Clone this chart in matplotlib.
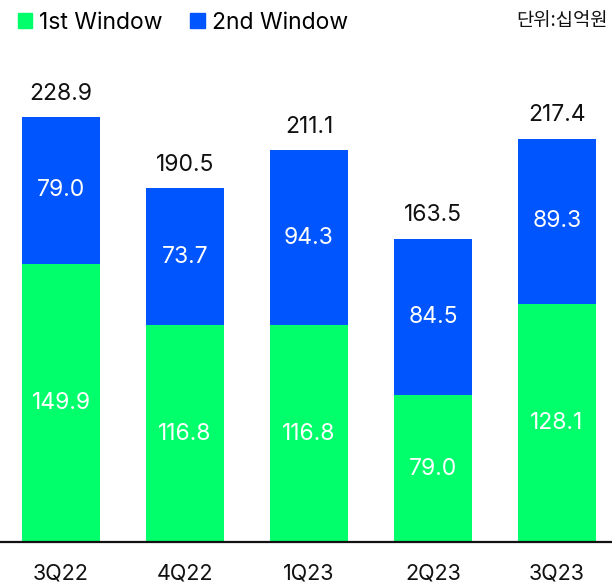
import matplotlib.pyplot as plt
from matplotlib.patches import Patch

plt.rcParams['font.family'] = ['Inter', 'Noto Sans CJK KR', 'DejaVu Sans']

quarters = ["3Q22", "4Q22", "1Q23", "2Q23", "3Q23"]
first_window = [149.9, 116.8, 116.8, 79.0, 128.1]
second_window = [79.0, 73.7, 94.3, 84.5, 89.3]
totals = [228.9, 190.5, 211.1, 163.5, 217.4]

green = "#00FF6A"
blue = "#0055FF"

fig = plt.figure(figsize=(6.12, 5.87), dpi=100)
ax = fig.add_axes([0, 45 / 587, 1, 464 / 587])

x = list(range(len(quarters)))
w = 0.629
ax.bar(x, first_window, width=w, color=green)
ax.bar(x, second_window, width=w, bottom=first_window, color=blue)

# 막대 안/위 값 표시
for i in x:
    ax.text(i, first_window[i] / 2, "{:.1f}".format(first_window[i]),
            ha="center", va="center", color="white", fontsize=16.5)
    ax.text(i, first_window[i] + second_window[i] / 2, "{:.1f}".format(second_window[i]),
            ha="center", va="center", color="white", fontsize=16.5)
    ax.text(i, totals[i] + 6.5, "{:.1f}".format(totals[i]),
            ha="center", va="bottom", color="#111111", fontsize=16.5)

ax.set_xlim(-0.492, 4.444)
ax.set_ylim(0, 250)
for s in ["top", "right", "left"]:
    ax.spines[s].set_visible(False)
ax.spines["bottom"].set_linewidth(1.6)
ax.spines["bottom"].set_color("#111111")
ax.set_yticks([])
ax.set_xticks(x)
ax.set_xticklabels(quarters, fontsize=15.5, color="#111111")
ax.tick_params(axis="x", length=0, pad=15.5)

handles = [Patch(color=green, label="1st Window"), Patch(color=blue, label="2nd Window")]
fig.legend(handles=handles, loc="upper left", bbox_to_anchor=(-0.005, 1.015), ncol=2,
           frameon=False, fontsize=16.5, handlelength=0.65, handleheight=0.65,
           handletextpad=0.3, columnspacing=1.2)
fig.text(0.993, 0.965, "단위:십억원", ha="right", va="center", fontsize=13.5,
         family=["Noto Sans CJK KR", "DejaVu Sans"], color="#111111")

fig.savefig("out.png", dpi=100)
